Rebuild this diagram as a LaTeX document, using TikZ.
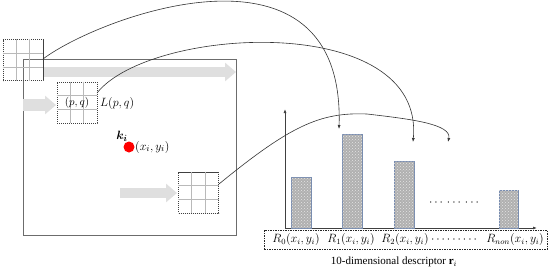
\documentclass[tikz,border=0pt]{standalone}
\usepackage{fontspec}
\setmainfont{Liberation Serif}
\usepackage{amsmath,bm}
\usetikzlibrary{arrows.meta,calc,patterns}
\tikzset{
  gridbox/.style={draw=black!75, dash pattern=on 1.2pt off 0.8pt, line width=0.6pt, minimum width=40pt, minimum height=41pt, inner sep=0pt},
  gridline/.style={draw=gray!55, line width=0.6pt},
  bigarrow/.style={draw=gray!25, line width=10pt, -{Triangle[width=18pt,length=11pt]}},
  link/.style={draw=black!80, line width=0.6pt, -{Latex[length=4pt,width=3pt]}},
  bar/.style={draw={rgb,255:red,120;green,140;blue,175}, line width=0.7pt, fill=gray!62, postaction={pattern=crosshatch dots, pattern color=gray!20}},
  axis/.style={draw=black!75, line width=0.8pt, -{Latex[length=4pt,width=3pt]}},
  lbl/.style={inner sep=0pt, font=\fontsize{12.5}{14}\selectfont},
  rlbl/.style={inner sep=0pt, font=\fontsize{12}{14}\selectfont}
}
\newcommand{\gridin}[1]{%
  \draw[gridline] ($(#1.north west)!1/3!(#1.north east)$) -- ($(#1.south west)!1/3!(#1.south east)$);
  \draw[gridline] ($(#1.north west)!2/3!(#1.north east)$) -- ($(#1.south west)!2/3!(#1.south east)$);
  \draw[gridline] ($(#1.north west)!1/3!(#1.south west)$) -- ($(#1.north east)!1/3!(#1.south east)$);
  \draw[gridline] ($(#1.north west)!2/3!(#1.south west)$) -- ($(#1.north east)!2/3!(#1.south east)$);
}
\begin{document}
\begin{tikzpicture}[x=1pt,y=-1pt]
\useasboundingbox[fill=white] (0,0) rectangle (550,276);
% image frame
\draw[draw=gray!85!black, line width=0.8pt] (23,59) rectangle (236,235);
% grey arrows
\coordinate (a1s) at (43,72); \coordinate (a1e) at (236,72);
\coordinate (a2s) at (23,105); \coordinate (a2e) at (56,105);
\coordinate (a3s) at (120,193); \coordinate (a3e) at (177,193);
\draw[bigarrow] (a1s) -- (a1e);
\draw[bigarrow, line width=12pt] (a2s) -- (a2e);
\draw[bigarrow] (a3s) -- (a3e);
% grids
\node[gridbox] (g1) at (23,60) {};
\gridin{g1}
\node[gridbox] (g2) at (77,102.5) {};
\gridin{g2}
\node[gridbox] (g3) at (198.5,192.5) {};
\gridin{g3}
\node[inner sep=0pt, font=\fontsize{10.5}{12}\selectfont] (pq) at (g2.center) {$(p,q)$};
\node[lbl, anchor=west] (L) at (100,103) {$L(p,q)$};
% keypoint
\node[circle, fill=red, minimum size=11pt, inner sep=0pt] (kp) at (129,147) {};
\node[lbl] (ki) at (122,136) {$\bm{k}_{\bm{i}}$};
\node[lbl, anchor=west] (xy) at (135,147) {$(x_i,y_i)$};
% histogram axes
\coordinate (o) at (285,228);
\coordinate (ytop) at (285,109);
\coordinate (xend) at (537,228);
\draw[axis] (o) -- (ytop);
\draw[axis] (o) -- (xend);
% bars
\draw[bar] (291,177) rectangle (311,228);
\draw[bar] (342,134) rectangle (362,228);
\draw[bar] (394,161) rectangle (414,228);
\draw[bar] (499,190) rectangle (518,228);
\node[lbl] (dots) at (455,203) {$\cdots\,\cdots\,\cdots$};
% descriptor box
\node[draw=black!85, dash pattern=on 1.5pt off 1pt, line width=0.6pt, minimum width=283pt, minimum height=19pt, inner sep=0pt, anchor=north west] (box) at (264,230) {};
\node[rlbl] (r0) at (296,239.5) {$R_0(x_i,y_i)$};
\node[rlbl] (r1) at (351,239.5) {$R_1(x_i,y_i)$};
\node[rlbl] (r2) at (405,239.5) {$R_2(x_i,y_i)$};
\node[rlbl] (rd) at (455,240) {$\cdots\cdots\cdots$};
\node[rlbl] (rn) at (515,239.5) {$R_{non}(x_i,y_i)$};
\node[inner sep=0pt, font=\fontsize{11}{13}\selectfont] (cap) at (394,262) {10-dimensional descriptor $\mathbf{r}_i$};
% curved links
\coordinate (e1) at (339,129);
\coordinate (e2) at (413,142);
\coordinate (e3) at (448,142);
\coordinate (s1) at (43,59);
\coordinate (s2) at (97,93);
\coordinate (s3) at (219,184);
\draw[link] (s1) .. controls (100,16) and (345,-74) .. (e1);
\draw[link] (s2) .. controls (150,26) and (425,11) .. (e2);
\draw[link] (s3) .. controls (290,126) and (320,112) .. (367,114) .. controls (410,119) and (452,124) .. (e3);
\end{tikzpicture}
\end{document}
